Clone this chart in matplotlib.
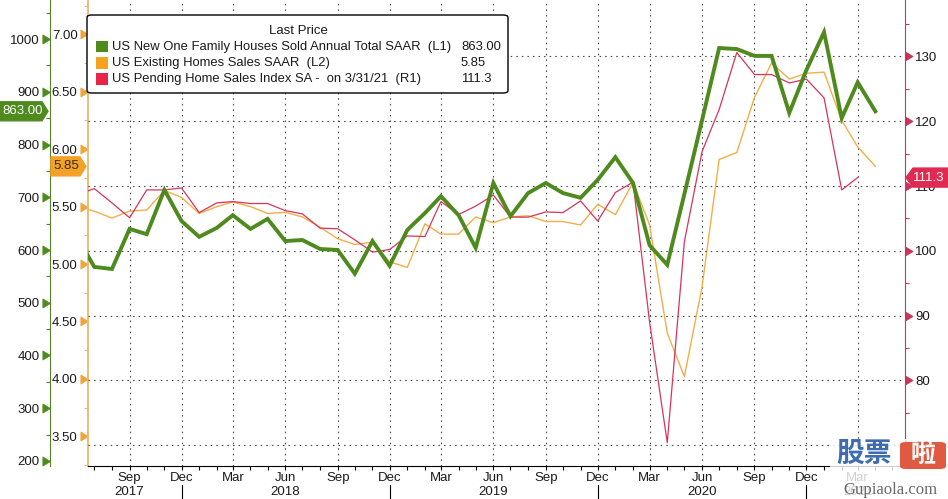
import numpy as np
import pandas as pd
import matplotlib
matplotlib.use('Agg')
import matplotlib.pyplot as plt
import matplotlib.dates as mdates
from matplotlib.path import Path
from matplotlib.patches import Polygon, Rectangle, FancyBboxPatch
from matplotlib.ticker import MultipleLocator
from matplotlib.transforms import blended_transform_factory

plt.rcParams['font.family'] = ['Liberation Sans', 'DejaVu Sans']

# monthly points, Jun 2017 .. Apr 2021
months = pd.date_range('2017-06-01', periods=47, freq='MS')

# US New One Family Houses Sold, SAAR (thousands) - L1
new_home_sales = [625, 568, 564, 640, 630, 714, 655, 625, 642, 666, 640, 659,
                  617, 619, 602, 600, 555, 617, 570, 638, 670, 702, 666, 604,
                  727, 664, 708, 727, 708, 699, 733, 776, 727, 609, 572, 706,
                  846, 983, 981, 968, 968, 860, 941, 1013, 850, 918, 863]

# US Existing Homes Sales, SAAR (millions) - L2
existing_sales = [5.50, 5.46, 5.40, 5.46, 5.47, 5.64, 5.58, 5.44, 5.50, 5.54,
                  5.50, 5.44, 5.45, 5.41, 5.32, 5.22, 5.17, 5.19, 5.02, 4.97,
                  5.35, 5.26, 5.26, 5.41, 5.36, 5.41, 5.42, 5.37, 5.37, 5.34,
                  5.52, 5.43, 5.71, 5.34, 4.40, 4.02, 4.80, 5.91, 5.97, 6.45,
                  6.75, 6.61, 6.66, 6.67, 6.25, 6.02, 5.85]

# US Pending Home Sales Index SA - R1 (ends Mar 2021)
pending_sales = [108.6, 109.6, 107.4, 105.1, 109.4, 109.4, 109.7, 105.9, 107.4,
                 107.6, 107.3, 107.3, 106.2, 105.7, 103.5, 103.4, 101.7, 99.8,
                 100.2, 102.3, 102.2, 107.6, 105.6, 106.9, 108.6, 105.2, 105.2,
                 106.0, 105.9, 107.7, 104.6, 109.0, 110.6, 89.0, 70.4, 101.4,
                 115.3, 121.8, 130.6, 127.2, 127.2, 125.9, 126.5, 123.6, 109.4,
                 111.3]

x_ticks = pd.date_range('2017-09-01', '2021-03-01', freq='3MS')
x_labels = ['Sep\n2017', 'Dec', 'Mar', 'Jun\n2018', 'Sep', 'Dec', 'Mar',
            'Jun\n2019', 'Sep', 'Dec', 'Mar', 'Jun\n2020', 'Sep', 'Dec',
            'Mar\n2021']
year_marks = pd.to_datetime(['2017-12-01', '2018-12-01', '2019-12-01', '2020-12-01'])

green_ticks = [200, 300, 400, 500, 600, 700, 800, 900, 1000]
orange_ticks = [3.5, 4.0, 4.5, 5.0, 5.5, 6.0, 6.5, 7.0]
red_ticks = [70, 80, 90, 100, 110, 120, 130]

legend_title = 'Last Price'
legend_names = ['US New One Family Houses Sold Annual Total SAAR  (L1)',
                'US Existing Homes Sales SAAR  (L2)',
                'US Pending Home Sales Index SA -  on 3/31/21  (R1)']
legend_last = ['863.00', '5.85', '111.3']

GREEN = '#4e8a1d'
ORANGE = '#f2ae48'
RED = '#d6345c'
LEG_COLORS = ['#4f8b1b', '#f5a21c', '#e8244b']
GRID = dict(color='#4a4a4a', lw=0.8, ls=(0, (1.4, 3.6)))

W, H = 948, 499
fig = plt.figure(figsize=(W / 100, H / 100), dpi=100)
ax = fig.add_axes([88 / W, 33 / H, 817 / W, 466 / H])   # orange, L2
ax_r = ax.twinx()                                         # red, R1
ax_g = ax.twinx()                                         # green, L1

ax.plot(months, existing_sales, color=ORANGE, lw=1.0)
ax_r.plot(months[:len(pending_sales)], pending_sales, color=RED, lw=0.9)
ax_g.plot(months, new_home_sales, color=GREEN, lw=2.8, solid_joinstyle='miter')

ax.set_xlim(pd.Timestamp('2017-06-20'), pd.Timestamp('2021-05-23'))
ax.set_ylim(3.242, 7.298)
ax_r.set_ylim(66.8, 138.7)
ax_g.set_ylim(190.5, 1074)

# spines
for a in (ax, ax_r, ax_g):
    for s in a.spines.values():
        s.set_visible(False)
ax.spines['bottom'].set_visible(True)
ax.spines['bottom'].set_color('black')
ax.spines['left'].set_visible(True)
ax.spines['left'].set_color('#eab76e')
ax.spines['left'].set_linewidth(1.3)
ax_r.spines['right'].set_visible(True)
ax_r.spines['right'].set_color('#c4375c')
ax_g.spines['left'].set_visible(True)
ax_g.spines['left'].set_color('#55812a')
ax_g.spines['left'].set_position(('outward', 38 * 0.72))
ax_g.yaxis.tick_left()
ax_g.yaxis.set_label_position('left')

# y ticks
ax.set_yticks(orange_ticks, [f'{v:.2f}' for v in orange_ticks])
ax.yaxis.set_minor_locator(MultipleLocator(0.25))
ax_g.set_yticks(green_ticks, [str(v) for v in green_ticks])
ax_g.yaxis.set_minor_locator(MultipleLocator(50))
ax_r.set_yticks(red_ticks, [str(v) for v in red_ticks])
ax_r.yaxis.set_minor_locator(MultipleLocator(5))

for a, c in ((ax, '#eab76e'), (ax_g, '#55812a'), (ax_r, '#c4375c')):
    a.tick_params(axis='y', which='major', length=5, width=0.8, pad=2.5,
                  color=c, labelsize=9.5, labelcolor='#1a1a1a')
    a.tick_params(axis='y', which='minor', length=3, width=0.8, color=c)

# x ticks
ax.set_xticks(x_ticks.to_pydatetime(), x_labels)
ax.xaxis.set_minor_locator(mdates.MonthLocator())
ax.tick_params(axis='x', which='both', length=3, width=0.8, color='black',
               pad=1.5, labelsize=9.5, labelcolor='#1a1a1a')

ax.grid(axis='x', which='major', **GRID)
ax_r.grid(axis='y', which='major', **GRID)

# triangle tick marks like the terminal chart
tri_in = Path([(-1, -0.6), (0, 0), (-1, 0.6), (-1, -0.6)],
              [Path.MOVETO, Path.LINETO, Path.LINETO, Path.CLOSEPOLY])
tri_out = Path([(0, -0.6), (1, 0), (0, 0.6), (0, -0.6)],
               [Path.MOVETO, Path.LINETO, Path.LINETO, Path.CLOSEPOLY])


def tri_ticks(axis, path, color, right=False):
    for t in axis.get_major_ticks():
        line = t.tick2line if right else t.tick1line
        line.set_marker(path)
        line.set_markersize(11)
        line.set_markerfacecolor(color)
        line.set_markeredgecolor(color)
        line.set_markeredgewidth(0.5)


tri_ticks(ax.yaxis, tri_in, '#f0a53a')
tri_ticks(ax_g.yaxis, tri_in, '#4e8a1d')
tri_ticks(ax_r.yaxis, tri_out, '#c8335a', right=True)

# year separators below the month labels
trans = blended_transform_factory(ax.transData, ax.transAxes)
for d in year_marks:
    xd = mdates.date2num(d)
    ax.plot([xd, xd], [-19 / 466, -34 / 466], transform=trans, color='black',
            lw=0.8, clip_on=False)


def px(x, y):
    # pixel from top-left -> figure fraction
    return x / W, 1 - y / H


# last value tags on the axes
def tag(x0, x1, tip, val, a, text, face, tcolor, tx):
    yc = H - a.transData.transform((0, val))[1]
    h = 9.5
    if tip > x1:
        pts = [(x0, yc - h), (x1, yc - h), (tip, yc), (x1, yc + h), (x0, yc + h)]
    else:
        pts = [(tip, yc), (x0, yc - h), (x1, yc - h), (x1, yc + h), (x0, yc + h)]
    fig.add_artist(Polygon([px(*p) for p in pts], closed=True,
                           transform=fig.transFigure, fc=face, ec=face, zorder=5))
    fig.text(*px(tx, yc), text, ha='center', va='center', fontsize=9.5,
             color=tcolor, zorder=6)


tag(0, 42, 48, 863, ax_g, '863.00', '#4f8a1e', 'white', 23)
tag(51, 80, 86, 5.85, ax, '5.85', '#f3a127', '#3a2a10', 66)
tag(913, 948, 906, 111.3, ax_r, '111.3', '#e02a52', 'white', 929)

# legend box
fig.add_artist(FancyBboxPatch(px(87, 93), 421 / W, 78 / H,
                              boxstyle='round,pad=0,rounding_size=0.005',
                              transform=fig.transFigure, fc='white', ec='black',
                              lw=1, zorder=10))
fig.text(*px(298, 31), legend_title, ha='center', va='center', fontsize=9.5,
         color='#1a1a1a', zorder=11)
for i in range(3):
    y = 47 + 16 * i
    fig.add_artist(Rectangle(px(96, y + 5.5), 12 / W, 11 / H,
                             transform=fig.transFigure, fc=LEG_COLORS[i],
                             ec='none', zorder=11))
    fig.text(*px(112, y), legend_names[i], ha='left', va='center', fontsize=9.4,
             color='#1a1a1a', zorder=11)
    fig.text(*px(461, y), legend_last[i], ha='left', va='center', fontsize=9.4,
             color='#1a1a1a', zorder=11)

# site watermark in the corner
fig.add_artist(Rectangle((830 / W, 0), 118 / W, 60 / H, transform=fig.transFigure,
                         fc='white', alpha=0.8, ec='none', zorder=20))
fig.text(*px(864, 454), '股票', family=['Noto Sans CJK SC'], fontweight='bold',
         fontsize=20, color='#3d6db0', ha='center', va='center', zorder=21)
fig.add_artist(FancyBboxPatch(px(900, 469), 46 / W, 27 / H,
                              boxstyle='round,pad=0,rounding_size=0.006',
                              transform=fig.transFigure, fc='#df5a40', ec='none',
                              zorder=21))
fig.text(*px(923, 455), '啦', family=['Noto Sans CJK SC'], fontweight='bold',
         fontsize=18, color='white', ha='center', va='center', zorder=22)
fig.text(*px(890, 490), 'Gupiaola.com', family=['Liberation Serif'], fontsize=12,
         color='#6a6a6a', ha='center', va='center', zorder=21)

fig.savefig('out.png', dpi=100)
